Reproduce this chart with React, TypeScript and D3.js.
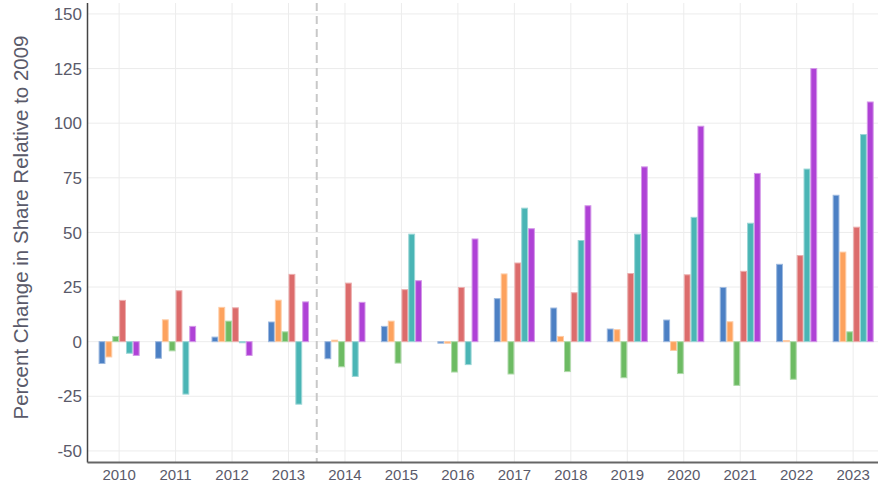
import React from "react";
import * as d3 from "d3";

const years = [2010, 2011, 2012, 2013, 2014, 2015, 2016, 2017, 2018, 2019, 2020, 2021, 2022, 2023];
const seriesNames = ["blue", "orange", "green", "red", "teal", "purple"];
const seriesColors = ["#4c80c4", "#fda25e", "#6dbb63", "#dc6c6c", "#4ab5b5", "#af42d6"];

const blueVals = [-10, -7.6, 2.1, 9, -7.8, 7, -0.7, 19.7, 15.4, 5.8, 9.9, 24.8, 35.4, 67];
const orangeVals = [-7, 10, 15.7, 19, 0.7, 9.4, -0.7, 31, 2.4, 5.5, -4, 9.1, 0.5, 41];
const greenVals = [2.4, -4.2, 9.4, 4.5, -11.5, -9.8, -13.9, -14.8, -13.7, -16.5, -14.6, -20, -17.2, 4.5];
const redVals = [18.9, 23.3, 15.5, 30.8, 26.8, 23.8, 24.8, 36, 22.4, 31.2, 30.6, 32.2, 39.4, 52.4];
const tealVals = [-5.3, -24, -0.5, -28.6, -15.9, 49.2, -10.5, 61.1, 46.3, 49.2, 56.9, 54.2, 79, 94.8];
const purpleVals = [-6.3, 7, -6.3, 18.2, 18, 27.9, 47, 51.7, 62.2, 80, 98.6, 77, 125, 109.7];

const allSeries = [blueVals, orangeVals, greenVals, redVals, tealVals, purpleVals];
const yTicks = [-50, -25, 0, 25, 50, 75, 100, 125, 150];
const yTitle = "Percent Change in Share Relative to 2009";
const dividerYear = 2013.5;

const W = 878;
const H = 487;
const plotLeft = 87.5;
const plotRight = 878;
const plotTop = 3;
const plotBottom = 462.5;

export default function App() {
  const x = d3.scaleLinear().domain([2009.44, 2023.44]).range([plotLeft, plotRight]);
  const y = d3.scaleLinear().domain([-55.3, 155]).range([plotBottom, plotTop]);
  const step = x(2011) - x(2010);
  const groupW = step * 0.727;
  const inner = d3.scaleBand<string>().domain(seriesNames).range([-groupW / 2, groupW / 2]).padding(0);
  const font = "Arial, 'Liberation Sans', sans-serif";

  return (
    <svg width={W} height={H} style={{ position: "absolute", left: 0, top: 0, background: "#fff" }} fontFamily={font}>
      {/* grid */}
      {yTicks.map((t) => (
        <line key={"gy" + t} x1={plotLeft} x2={plotRight} y1={y(t)} y2={y(t)} stroke="#ececec" strokeWidth={1} />
      ))}
      {years.map((yr) => (
        <line key={"gx" + yr} x1={x(yr)} x2={x(yr)} y1={plotTop} y2={plotBottom} stroke="#ececec" strokeWidth={1} />
      ))}
      {/* bars */}
      {allSeries.map((vals, si) => {
        const c = seriesColors[si];
        const strokeC = d3.interpolateRgb(c, "#ffffff")(0.45);
        return vals.map((v, i) => {
          const x0 = x(years[i]) + (inner(seriesNames[si]) as number);
          const y0 = y(Math.max(0, v));
          const h = Math.abs(y(v) - y(0));
          return (
            <rect
              key={si + "-" + i}
              x={x0 + 0.5}
              y={y0}
              width={inner.bandwidth() - 1}
              height={Math.max(h, 0.5)}
              fill={c}
              stroke={strokeC}
              strokeWidth={1}
            />
          );
        });
      })}
      {/* divider */}
      <line x1={x(dividerYear)} x2={x(dividerYear)} y1={plotTop} y2={plotBottom} stroke="#c8c8c8" strokeWidth={2} strokeDasharray="8,5" />
      {/* axes */}
      <line x1={plotLeft} x2={plotLeft} y1={plotTop} y2={plotBottom} stroke="#444" strokeWidth={1.5} />
      <line x1={plotLeft} x2={plotRight} y1={plotBottom} y2={plotBottom} stroke="#666" strokeWidth={2} />
      {yTicks.map((t) => (
        <text key={"ty" + t} x={82} y={y(t)} dy="0.36em" textAnchor="end" fontSize={17} fill="#5a5a6a">
          {t}
        </text>
      ))}
      {years.map((yr) => (
        <text key={"tx" + yr} x={x(yr)} y={480} textAnchor="middle" fontSize={15} fill="#5a5a6a">
          {yr}
        </text>
      ))}
      <text
        transform={`translate(28, 227.5) rotate(-90)`}
        textAnchor="middle"
        fontSize={20.5}
        fill="#5a5a6a"
      >
        {yTitle}
      </text>
    </svg>
  );
}
